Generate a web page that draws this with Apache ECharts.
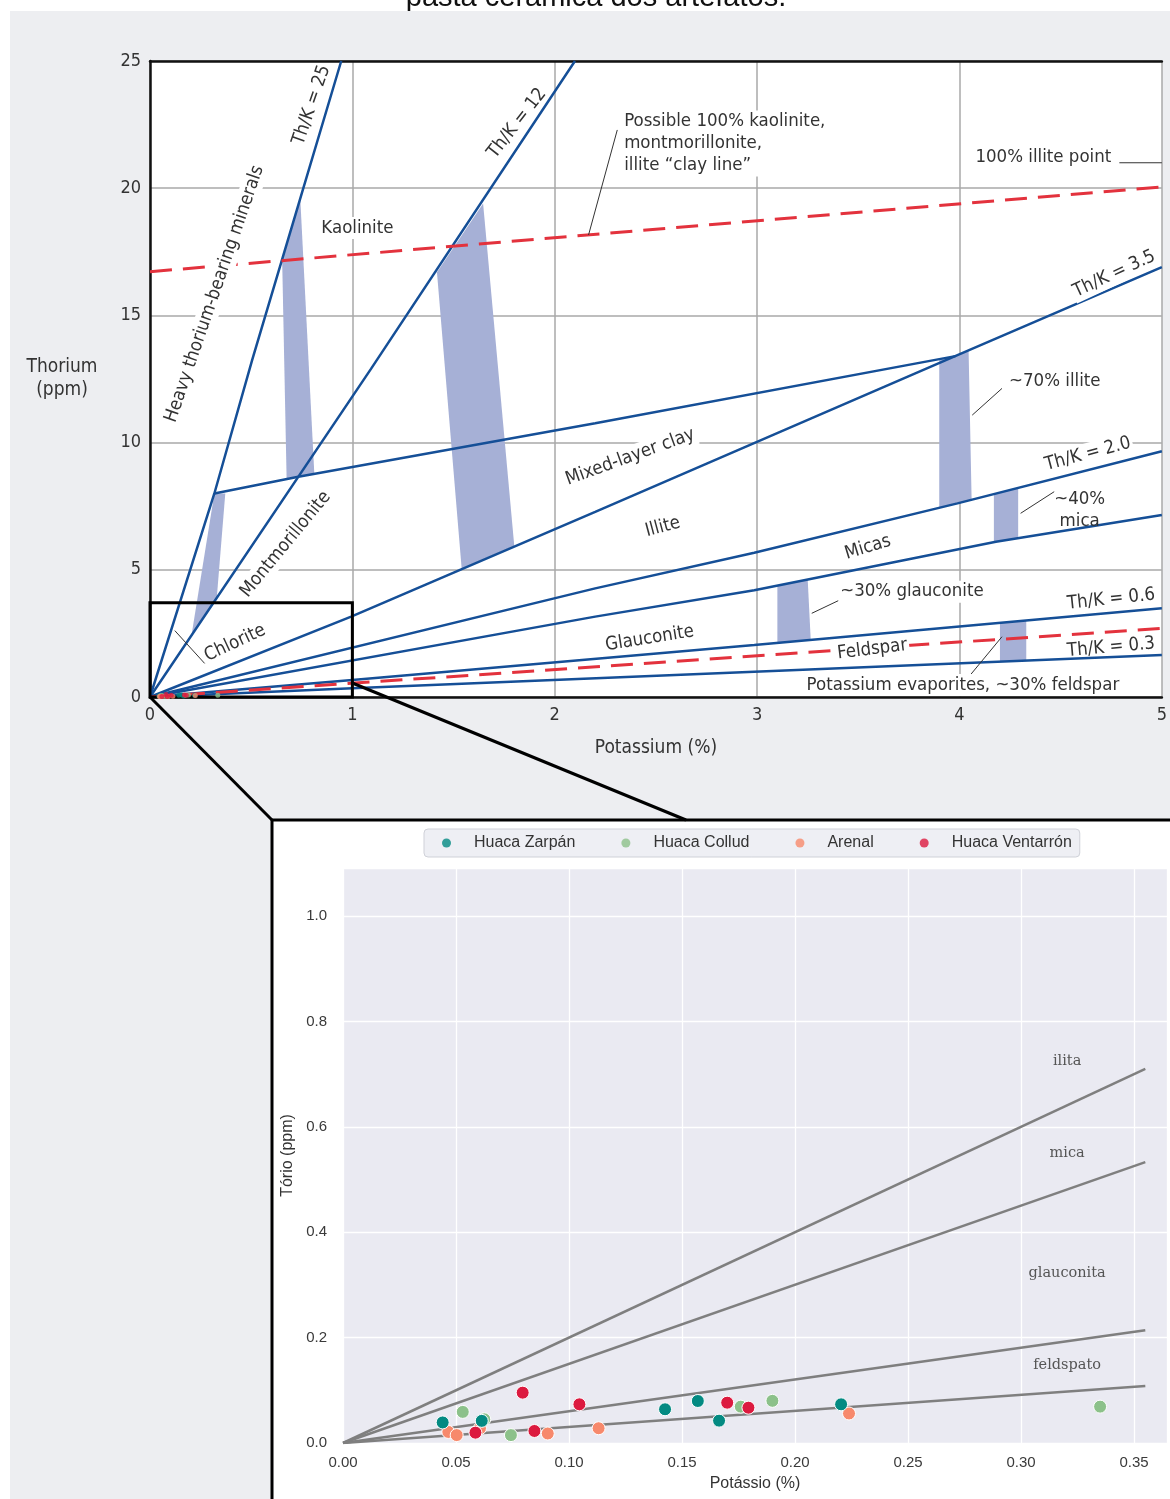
<!DOCTYPE html>
<html><head><meta charset="utf-8">
<script src="https://cdn.jsdelivr.net/npm/echarts@6/dist/echarts.min.js"></script>
<style>html,body{margin:0;padding:0;background:#fff;}#c{width:1170px;height:1499px;}</style>
</head><body><div id="c"></div>
<script>
// ---------- Upper chart (Th vs K crossplot) ----------
const lineTh25 = [[0,0],[0.318,8.0],[0.505,13.25],[0.75,19.8],[0.945,25]];
const lineTh12 = [[0,0],[1.092,12.9],[2.10,25]];
const lineTh35 = [[0,0],[0.994,3.16],[2.2,7.28],[3.99,13.44],[5,16.9]];
const lineMixed = [[0.318,8.0],[0.733,8.66],[2.2,10.76],[3.98,13.4]];
const lineTh20 = [[0,0],[2.2,4.27],[2.986,5.67],[3.99,7.61],[5,9.66]];
const lineMica = [[0,0],[2.2,3.16],[2.986,4.2],[4.18,6.1],[5,7.15]];
const lineTh06 = [[0,0],[1,0.67],[2.986,2.04],[5,3.49]];
const lineTh03 = [[0,0],[1,0.34],[2.986,0.995],[5,1.65]];
const clayLine = [[0,16.72],[5,20.05]];
const feldsparLine = [[0,0],[5,2.7]];

const bandChlorite = [[0.318,8.0],[0.372,8.0],[0.33,3.9],[0.205,2.42]];
const bandKaolinite = [[0.7425,19.6],[0.653,17.2],[0.675,8.6],[0.812,8.78]];
const bandIllite = [[1.646,19.4],[1.418,16.7],[1.54,5.05],[1.80,5.95]];
const bandIllite70 = [[3.90,13.28],[3.99,13.43],[4.045,13.62],[4.06,7.75],[3.90,7.44]];
const bandMica40 = [[4.17,7.98],[4.29,8.22],[4.29,6.24],[4.17,6.09]];
const bandGlauc30 = [[3.10,4.38],[3.25,4.62],[3.265,2.24],[3.10,2.12]];
const bandFeld30 = [[4.20,2.91],[4.33,3.01],[4.33,1.43],[4.20,1.39]];

const zoomBox = [[0,0],[1.0,0],[1.0,3.7],[0,3.7]];

const leaders = [
  [[2.309,22.29],[2.167,18.16]],
  [[4.79,21.0],[5.0,21.0]],
  [[4.063,11.08],[4.21,12.13]],
  [[4.302,7.22],[4.468,8.07]],
  [[3.27,3.29],[3.426,3.88]],
  [[4.053,0.86],[4.21,2.37]],
  [[0.1225,2.61],[0.27,1.32]]
];

const annotations = [
  {t:'Th/K = 25', k:0.799, th:23.27, r:71},
  {t:'Th/K = 12', k:1.814, th:22.55, r:52},
  {t:'Heavy thorium-bearing minerals', k:0.319, th:15.84, r:71, bg:1},
  {t:'Kaolinite', k:1.025, th:18.44, r:0, bg:1},
  {t:'Possible 100% kaolinite,\nmontmorillonite,\nillite \u201cclay line\u201d', k:2.333, th:23.05, r:0, align:'left', va:'top', bg:1},
  {t:'100% illite point', k:4.76, th:21.23, r:0, align:'right', bg:1},
  {t:'Th/K = 3.5', k:4.765, th:16.63, r:25, bg:1},
  {t:'~70% illite', k:4.235, th:12.42, r:0, align:'left', bg:1},
  {t:'Mixed-layer clay', k:2.373, th:9.43, r:20, bg:1},
  {t:'Montmorillonite', k:0.67, th:6.0, r:50.5, bg:1},
  {t:'Chlorite', k:0.42, th:2.12, r:25},
  {t:'Illite', k:2.534, th:6.68, r:15},
  {t:'Micas', k:3.547, th:5.88, r:17},
  {t:'Th/K = 2.0', k:4.634, th:9.55, r:15, bg:1},
  {t:'~40%\nmica', k:4.594, th:7.35, r:0},
  {t:'~30% glauconite', k:3.765, th:4.14, r:0, bg:1},
  {t:'Glauconite', k:2.469, th:2.3, r:9},
  {t:'Th/K = 0.6', k:4.749, th:3.84, r:6},
  {t:'Feldspar', k:3.569, th:1.87, r:7, bg:1},
  {t:'Th/K = 0.3', k:4.749, th:1.95, r:5},
  {t:'Potassium evaporites, ~30% feldspar', k:4.017, th:0.47, r:0, bg:1}
];

// ---------- Lower chart (samples) ----------
const seriesNames = ['Huaca Zarp\u00e1n','Huaca Collud','Arenal','Huaca Ventarr\u00f3n'];
const zarpan = [[0.0441,0.039],[0.0614,0.042],[0.1425,0.064],[0.157,0.0797],[0.1664,0.0424],[0.2204,0.0734]];
const collud = [[0.053,0.059],[0.0625,0.045],[0.0743,0.015],[0.176,0.069],[0.19,0.080],[0.335,0.069]];
const arenal = [[0.0466,0.021],[0.0503,0.015],[0.0606,0.028],[0.0906,0.018],[0.1131,0.028],[0.2239,0.056]];
const ventarron = [[0.0586,0.0196],[0.0795,0.0955],[0.0847,0.0228],[0.1046,0.0734],[0.170,0.0765],[0.1794,0.067]];
const lowIlita = [[0,0],[0.355,0.71]];
const lowMica = [[0,0],[0.355,0.533]];
const lowGlauc = [[0,0],[0.355,0.214]];
const lowFeld = [[0,0],[0.355,0.108]];
const lowLabels = [['ilita',0.3204,0.725],['mica',0.3204,0.55],['glauconita',0.3204,0.3226],['feldspato',0.3204,0.148]];

// ---------- styles ----------
const NARROW = '"Liberation Sans Narrow","DejaVu Sans Condensed","Roboto Condensed","Liberation Sans",sans-serif';
const SANS = '"Liberation Sans",Arial,sans-serif';
const SERIF = '"DejaVu Serif","Liberation Serif",serif';
const BLUE = '#154f97', RED = '#e3323d', BAND = '#a6b0d6';
const COLORS = ['#038a82','#8cc18a','#f7896c','#dc1a3f'];
const AF = 18.5;

const chart = echarts.init(document.getElementById('c'), null, {renderer:'canvas', width:1170, height:1499});

function blue(data){ return {type:'line', xAxisIndex:0, yAxisIndex:0, data, showSymbol:false, silent:true, z:3, lineStyle:{color:BLUE, width:2.5}, animation:false}; }
function dashed(data){ return {type:'line', xAxisIndex:0, yAxisIndex:0, data, showSymbol:false, silent:true, z:3, lineStyle:{color:RED, width:3, type:[22,11]}, animation:false}; }
function grayLine(data){ return {type:'line', xAxisIndex:2, yAxisIndex:1, data, showSymbol:false, silent:true, z:2, lineStyle:{color:'#7f7f7f', width:2.5}, animation:false}; }

const bands = [bandChlorite, bandKaolinite, bandIllite, bandIllite70, bandMica40, bandGlauc30, bandFeld30];

const series = [
  {type:'custom', xAxisIndex:0, yAxisIndex:0, silent:true, z:1, animation:false,
   data: bands.map((b,i)=>[i,0]),
   renderItem:(p,api)=>({type:'polygon', shape:{points:bands[p.dataIndex].map(pt=>api.coord(pt))}, style:{fill:BAND}})},
  blue(lineTh25), blue(lineTh12), blue(lineTh35), blue(lineMixed), blue(lineTh20), blue(lineMica), blue(lineTh06), blue(lineTh03),
  dashed(clayLine), dashed(feldsparLine),
  {type:'custom', xAxisIndex:0, yAxisIndex:0, silent:true, z:4, animation:false,
   data: leaders.map((b,i)=>[i,0]),
   renderItem:(p,api)=>({type:'polyline', shape:{points:leaders[p.dataIndex].map(pt=>api.coord(pt))}, style:{stroke:'#333', lineWidth:1, fill:null}})},
  {type:'custom', xAxisIndex:0, yAxisIndex:0, silent:true, z:5, animation:false,
   data: annotations.map((a,i)=>[i,0]),
   renderItem:(p,api)=>{
     const a = annotations[p.dataIndex];
     const c = api.coord([a.k, a.th]);
     return {type:'text', x:c[0], y:c[1], rotation:a.r*Math.PI/180,
       style:{text:a.t, fill:'#333', fontSize:AF, fontFamily:NARROW, lineHeight:22,
         align:a.align||'center', verticalAlign:a.va||'middle',
         backgroundColor:a.bg?'#fff':null, padding:a.bg?[0,2]:0}};
   }},
  {type:'custom', xAxisIndex:0, yAxisIndex:0, silent:true, z:6, animation:false, clip:false,
   data:[[0,0]],
   renderItem:(p,api)=>({type:'polygon', shape:{points:zoomBox.map(pt=>api.coord(pt))}, style:{fill:null, stroke:'#000', lineWidth:3}})}
];
// small dots in upper chart
[zarpan, collud, arenal, ventarron].forEach((d,i)=>{
  series.push({type:'scatter', name:seriesNames[i], xAxisIndex:0, yAxisIndex:0, data:d, symbolSize:5, z:7, silent:true,
    itemStyle:{color:COLORS[i]}, animation:false});
});
// lower chart
series.push(grayLine(lowIlita), grayLine(lowMica), grayLine(lowGlauc), grayLine(lowFeld));
[[1,collud],[2,arenal],[0,zarpan],[3,ventarron]].forEach(([i,d])=>{
  series.push({type:'scatter', name:seriesNames[i], xAxisIndex:2, yAxisIndex:1, data:d, symbolSize:13, z:3,
    itemStyle:{color:COLORS[i], borderColor:'#fff', borderWidth:1, opacity:1}, animation:false});
});
series.push({type:'custom', xAxisIndex:2, yAxisIndex:1, silent:true, z:4, animation:false,
  data: lowLabels.map((a,i)=>[i,0]),
  renderItem:(p,api)=>{ const a=lowLabels[p.dataIndex]; const c=api.coord([a[1],a[2]]);
    return {type:'text', x:c[0], y:c[1], style:{text:a[0], fill:'#555', fontSize:14.5, fontFamily:SERIF, align:'center', verticalAlign:'middle'}}; }});

const option = {
  animation:false,
  backgroundColor:'transparent',
  grid:[
    {left:150, top:61, right:-1, bottom:802, show:true, backgroundColor:'#fff', borderWidth:0},
    {left:343, top:868, right:3, bottom:56, show:true, backgroundColor:'#eaeaf2', borderWidth:0}
  ],
  xAxis:[
    {gridIndex:0, type:'value', min:0, max:5, interval:1, position:'bottom',
     axisLine:{onZero:false, lineStyle:{color:'#111', width:2.5}}, axisTick:{show:false},
     axisLabel:{color:'#333', fontSize:18, fontFamily:NARROW, margin:9},
     splitLine:{lineStyle:{color:'#a8a8a8', width:1.5}},
     name:'Potassium (%)', nameLocation:'middle', nameGap:42, nameTextStyle:{color:'#333', fontSize:19, fontFamily:NARROW}},
    {gridIndex:0, type:'value', min:0, max:5, position:'top',
     axisLine:{onZero:false, lineStyle:{color:'#111', width:2.5}}, axisTick:{show:false}, axisLabel:{show:false}, splitLine:{show:false}},
    {gridIndex:1, type:'value', min:0, max:0.3646, interval:0.05,
     axisLine:{show:false}, axisTick:{show:false},
     axisLabel:{color:'#3a3a3a', fontSize:15, fontFamily:SANS, margin:12, showMaxLabel:false, formatter:v=>v.toFixed(2)},
     splitLine:{lineStyle:{color:'#fff', width:1.3}},
     name:'Pot\u00e1ssio (%)', nameLocation:'middle', nameGap:33, nameTextStyle:{color:'#333', fontSize:16, fontFamily:SANS}}
  ],
  yAxis:[
    {gridIndex:0, type:'value', min:0, max:25, interval:5,
     axisLine:{onZero:false, show:true, lineStyle:{color:'#111', width:2.5}}, axisTick:{show:false},
     axisLabel:{color:'#333', fontSize:18, fontFamily:NARROW, margin:9, padding:[0,0,10,0]},
     splitLine:{lineStyle:{color:'#a8a8a8', width:1.5}}},
    {gridIndex:1, type:'value', min:0, max:1.091, interval:0.2,
     axisLine:{show:false}, axisTick:{show:false},
     axisLabel:{color:'#3a3a3a', fontSize:15, fontFamily:SANS, margin:16, showMaxLabel:false, formatter:v=>v.toFixed(1)},
     splitLine:{lineStyle:{color:'#fff', width:1.3}},
     name:'T\u00f3rio (ppm)', nameLocation:'middle', nameGap:46, nameTextStyle:{color:'#333', fontSize:16, fontFamily:SANS}}
  ],
  legend:{left:424, top:829, orient:'horizontal', data:seriesNames, icon:'circle', itemWidth:9, itemHeight:9, itemGap:46,
    padding:[6,8,6,18], backgroundColor:'#eeeff4', borderColor:'#cfd1d8', borderWidth:1, borderRadius:4,
    selectedMode:false, textStyle:{fontSize:16, fontFamily:SANS, color:'#333', padding:[0,0,0,18]}},
  series
};
chart.setOption(option);

const p0 = chart.convertToPixel({xAxisIndex:0, yAxisIndex:0}, [0,0]);
const p1 = chart.convertToPixel({xAxisIndex:0, yAxisIndex:0}, [1.0,0.55]);
const thMid = chart.convertToPixel({xAxisIndex:0, yAxisIndex:0}, [0,12.5]);
chart.setOption({graphic:[
  {type:'text', z:-200, x:596, y:12, style:{text:'pasta cer\u00e2mica dos artefatos.', fontSize:29, fontFamily:SANS, fill:'#111', align:'center', verticalAlign:'bottom'}},
  {type:'rect', z:-100, shape:{x:10, y:11, width:1200, height:1600}, style:{fill:'#edeef1'}},
  {type:'rect', z:-50, shape:{x:272, y:820, width:1000, height:800}, style:{fill:'#fff', stroke:'#000', lineWidth:3}},
  {type:'text', z:10, x:62, y:thMid[1], style:{text:'Thorium\n(ppm)', fontSize:19, fontFamily:NARROW, fill:'#333', align:'center', verticalAlign:'middle', lineHeight:23}},
  {type:'polyline', z:10, shape:{points:[p0,[272,820]]}, style:{stroke:'#000', lineWidth:3}},
  {type:'polyline', z:10, shape:{points:[p1,[686,820]]}, style:{stroke:'#000', lineWidth:3}}
]});
</script></body></html>
